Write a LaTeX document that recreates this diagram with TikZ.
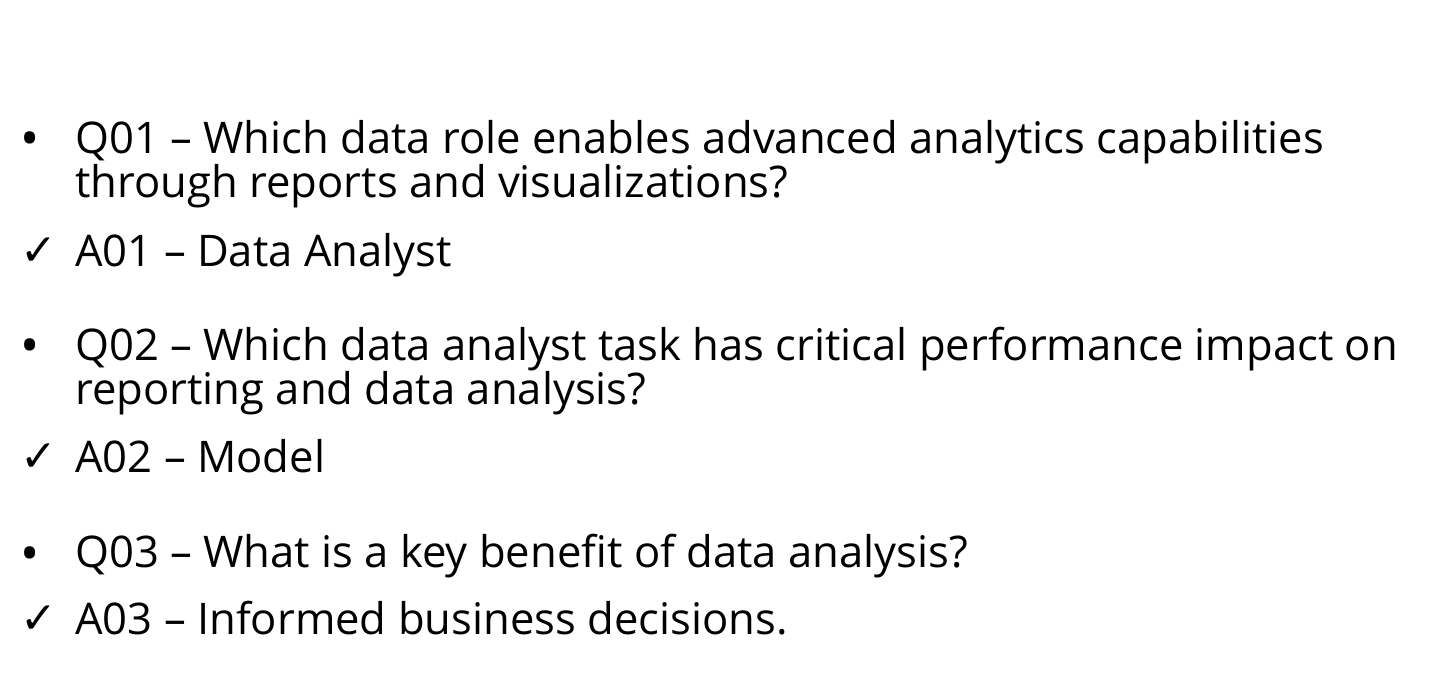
\documentclass[tikz,border=0pt]{standalone}
\usepackage{fontspec}
\setmainfont{Open Sans}
\newfontfamily\symfont{DejaVu Sans}
\usetikzlibrary{positioning}
\tikzstyle{itemtext}=[anchor=base west,inner sep=0pt,align=left,font=\fontsize{24.8pt}{25.6pt}\selectfont]
\tikzstyle{question}=[itemtext]
\tikzstyle{answer}=[itemtext]
\tikzstyle{bulletmark}=[anchor=base,inner sep=0pt,font=\fontsize{29pt}{30pt}\selectfont]
\tikzstyle{checkmark}=[anchor=base,inner sep=0pt,font=\fontsize{25pt}{26pt}\symfont]

\begin{document}
\begin{tikzpicture}
\useasboundingbox (0cm,0cm) rectangle (28.58cm,13.98cm);

% multi-line items are placed by the baseline of their last line
\node[question] (Q1) at (1.5cm,10.02cm) {Q01 – Which data role enables advanced analytics capabilities\\through reports and visualizations?};
\node[answer] (A1) at (1.5cm,8.64cm) {A01 – Data Analyst};
\node[question] (Q2) at (1.5cm,5.88cm) {Q02 – Which data analyst task has critical performance impact on\\reporting and data analysis?};
\node[answer] (A2) at (1.5cm,4.52cm) {A02 – Model};
\node[question] (Q3) at (1.5cm,2.62cm) {Q03 – What is a key benefit of data analysis?};
\node[answer] (A3) at (1.5cm,1.28cm) {A03 – Informed business decisions.};

\node[bulletmark] (B1) at (0.6cm,10.84cm) {•};
\node[checkmark] (C1) at (0.77cm,8.66cm) {✓};
\node[bulletmark] (B2) at (0.6cm,6.70cm) {•};
\node[checkmark] (C2) at (0.77cm,4.54cm) {✓};
\node[bulletmark] (B3) at (0.6cm,2.54cm) {•};
\node[checkmark] (C3) at (0.77cm,1.30cm) {✓};

\end{tikzpicture}
\end{document}
